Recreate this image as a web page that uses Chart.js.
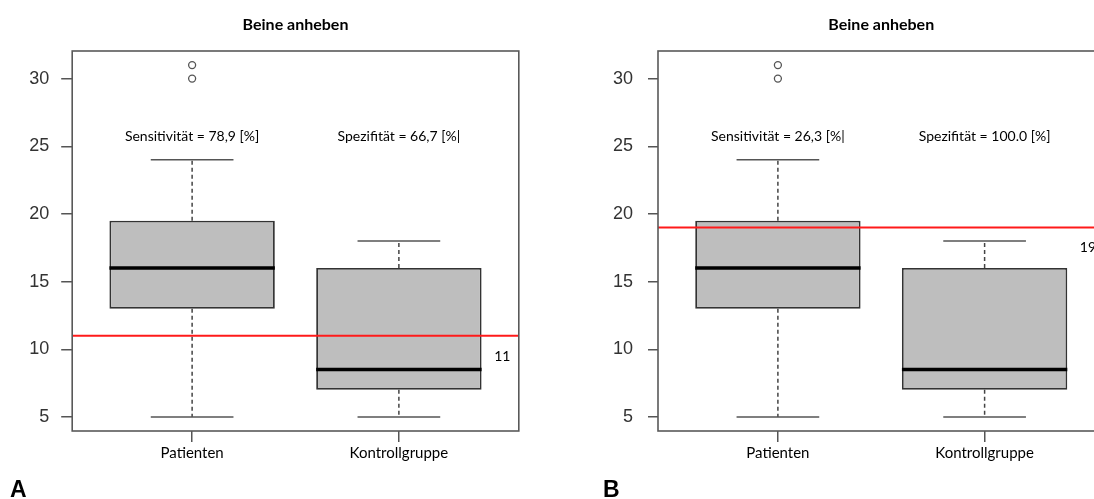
<!DOCTYPE html>
<html>
<head>
<meta charset="utf-8">
<script src="https://cdn.jsdelivr.net/npm/chart.js@4"></script>
<style>
    html, body { margin: 0; padding: 0; background: #fff; overflow: hidden; width: 1094px; height: 499px; }
    canvas { position: absolute; top: 0; }
    #chartA { left: 0; }
    #chartB { left: 547px; }
</style>
</head>
<body>
<canvas id="chartA" width="547" height="499"></canvas>
<canvas id="chartB" width="600" height="499"></canvas>
<script>
// Boxplot data (same groups in both panels)
const categories = ['Patienten', 'Kontrollgruppe'];
const lowerWhisker = [5, 5];
const q1 = [13, 7];
const median = [16, 8.5];
const q3 = [19.5, 16];
const upperWhisker = [24, 18];
const outliers = [[30, 31], []];
const yTicks = [5, 10, 15, 20, 25, 30];

// Panels
const panelLabels = ['A', 'B'];
const titles = ['Beine anheben', 'Beine anheben'];
const cutoffs = [11, 19];
const sensTexts = ['Sensitivität = 78,9 [%]', 'Sensitivität = 26,3 [%|'];
const specTexts = ['Spezifität = 66,7 [%|', 'Spezifität = 100.0 [%]'];
const textLevel = 25.7;

// layout per panel (pixels)
const layouts = [
    { yWidth: 72.2, padRight: 28.2, tickPad: 12, tickLen: 11, labelX: 10 },
    { yWidth: 111, padRight: 42.5, tickPad: 15, tickLen: 10, labelX: 56 }
];

function boxPlugin(panel) {
    return {
        id: 'boxExtras' + panel,
        afterDatasetsDraw(chart) {
            const ctx = chart.ctx;
            const xs = chart.scales.x;
            const ys = chart.scales.y;
            const area = chart.chartArea;
            ctx.save();
            categories.forEach((c, i) => {
                const x = xs.getPixelForValue(i + 1);
                const halfCap = xs.getPixelForValue(i + 1.2) - x;
                const halfBox = xs.getPixelForValue(i + 1.4) - x;
                ctx.strokeStyle = '#444';
                ctx.lineWidth = 1.5;
                // dashed whiskers
                ctx.setLineDash([4, 3]);
                ctx.beginPath();
                ctx.moveTo(x, ys.getPixelForValue(q3[i]));
                ctx.lineTo(x, ys.getPixelForValue(upperWhisker[i]));
                ctx.moveTo(x, ys.getPixelForValue(q1[i]));
                ctx.lineTo(x, ys.getPixelForValue(lowerWhisker[i]));
                ctx.stroke();
                // caps
                ctx.setLineDash([]);
                ctx.strokeStyle = '#555';
                ctx.beginPath();
                ctx.moveTo(x - halfCap, ys.getPixelForValue(upperWhisker[i]));
                ctx.lineTo(x + halfCap, ys.getPixelForValue(upperWhisker[i]));
                ctx.moveTo(x - halfCap, ys.getPixelForValue(lowerWhisker[i]));
                ctx.lineTo(x + halfCap, ys.getPixelForValue(lowerWhisker[i]));
                ctx.stroke();
                // median
                ctx.strokeStyle = '#000';
                ctx.lineWidth = 3.5;
                ctx.beginPath();
                ctx.moveTo(x - halfBox, ys.getPixelForValue(median[i]));
                ctx.lineTo(x + halfBox, ys.getPixelForValue(median[i]));
                ctx.stroke();
            });
            // cutoff line
            const yc = ys.getPixelForValue(cutoffs[panel]);
            ctx.strokeStyle = '#ff1a1a';
            ctx.lineWidth = 2;
            ctx.beginPath();
            ctx.moveTo(area.left, yc);
            ctx.lineTo(area.right, yc);
            ctx.stroke();
            ctx.restore();
        },
        afterDraw(chart) {
            const ctx = chart.ctx;
            const xs = chart.scales.x;
            const ys = chart.scales.y;
            const area = chart.chartArea;
            ctx.save();
            // frame
            ctx.strokeStyle = '#595959';
            ctx.lineWidth = 1.6;
            ctx.strokeRect(area.left, area.top, area.right - area.left, area.bottom - area.top);
            // texts
            ctx.fillStyle = '#000';
            ctx.textAlign = 'center';
            ctx.textBaseline = 'middle';
            ctx.font = 'bold 16px Lato';
            ctx.fillText(titles[panel], (area.left + area.right) / 2, 25);
            ctx.font = '14px Lato';
            ctx.fillText(sensTexts[panel], xs.getPixelForValue(1), ys.getPixelForValue(textLevel));
            ctx.fillText(specTexts[panel], xs.getPixelForValue(2), ys.getPixelForValue(textLevel));
            ctx.fillText(String(cutoffs[panel]), xs.getPixelForValue(2.5), ys.getPixelForValue(cutoffs[panel] - 1.5));
            // panel letter
            ctx.textAlign = 'left';
            ctx.textBaseline = 'alphabetic';
            ctx.font = 'bold 23px "Liberation Sans"';
            ctx.fillText(panelLabels[panel], layouts[panel].labelX, 497);
            ctx.restore();
        }
    };
}

function makeChart(canvasId, panel) {
    const lay = layouts[panel];
    const ctx = document.getElementById(canvasId).getContext('2d');
    return new Chart(ctx, {
        type: 'bar',
        data: {
            datasets: [
                {
                    label: 'Box',
                    data: categories.map((c, i) => ({ x: i + 1, y: [q1[i], q3[i]] })),
                    backgroundColor: '#bebebe',
                    borderColor: '#333',
                    borderWidth: 1.8,
                    borderSkipped: false,
                    categoryPercentage: 1,
                    barPercentage: 0.8
                },
                {
                    type: 'scatter',
                    label: 'Ausreißer',
                    data: outliers.flatMap((vals, i) => vals.map(v => ({ x: i + 1, y: v }))),
                    pointRadius: 3.5,
                    pointBackgroundColor: '#fff',
                    pointBorderColor: '#555',
                    pointBorderWidth: 1.3
                }
            ]
        },
        options: {
            responsive: false,
            animation: false,
            layout: { padding: { top: 51, left: 0, right: lay.padRight, bottom: 0 } },
            plugins: {
                legend: { display: false },
                title: { display: false },
                tooltip: { enabled: false }
            },
            scales: {
                x: {
                    type: 'linear',
                    offset: false,
                    min: 0.42,
                    max: 2.58,
                    afterBuildTicks: s => { s.ticks = categories.map((c, i) => ({ value: i + 1 })); },
                    afterFit: s => { s.height = 68; },
                    grid: { offset: false, drawOnChartArea: false, drawTicks: true, tickLength: 11, color: '#555', lineWidth: 1.5 },
                    border: { display: false },
                    ticks: {
                        padding: 2,
                        color: '#000',
                        font: { family: 'Lato', size: 15 },
                        maxRotation: 0,
                        callback: (v, i) => categories[i]
                    }
                },
                y: {
                    type: 'linear',
                    min: 3.96,
                    max: 32.04,
                    afterBuildTicks: s => { s.ticks = yTicks.map(v => ({ value: v })); },
                    afterFit: s => { s.width = lay.yWidth; },
                    grid: { drawOnChartArea: false, drawTicks: true, tickLength: lay.tickLen, color: '#555', lineWidth: 1.5 },
                    border: { display: false },
                    ticks: {
                        padding: lay.tickPad,
                        color: '#333',
                        font: { family: 'Liberation Sans', size: 18 }
                    }
                }
            }
        },
        plugins: [boxPlugin(panel)]
    });
}

makeChart('chartA', 0);
makeChart('chartB', 1);
</script>
</body>
</html>
